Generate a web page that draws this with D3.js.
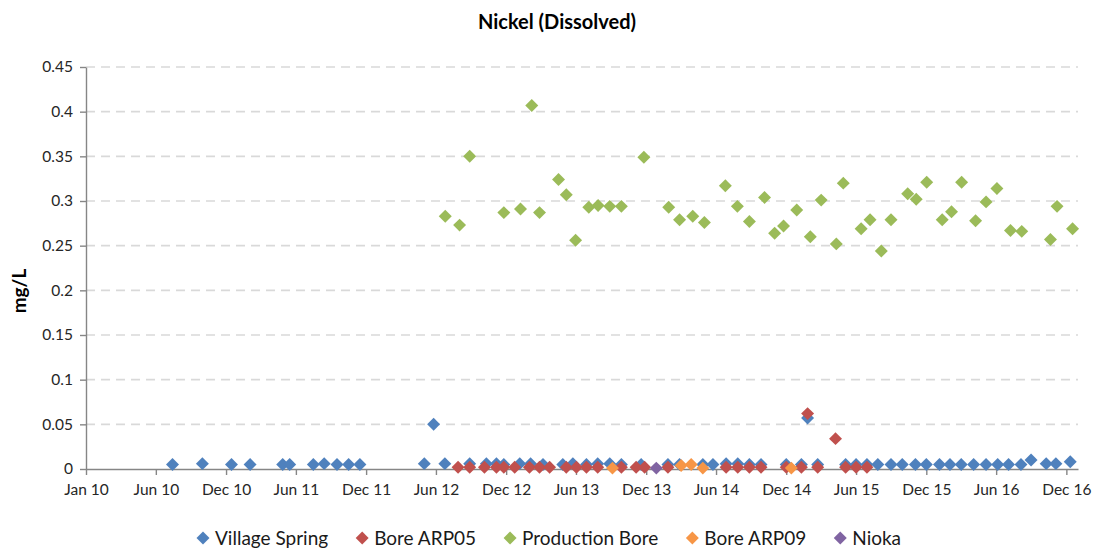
<!DOCTYPE html>
<html>
<head>
<meta charset="utf-8">
<script src="https://cdn.jsdelivr.net/npm/d3@7"></script>
<style>
  html, body { margin: 0; padding: 0; background: #ffffff; }
  svg { display: block; font-family: Lato, "Open Sans", sans-serif; }
</style>
</head>
<body>
<svg id="chart" width="1103" height="552"></svg>
<script>
// ---- data -------------------------------------------------------------
const seriesNames = ["Village Spring", "Bore ARP05", "Production Bore", "Bore ARP09", "Nioka"];
const seriesColors = ["#4f81bd", "#c0504d", "#9bbb59", "#f79646", "#8064a2"];

const villageSpring = [
  ["2010-08-12", 0.005], ["2010-10-28", 0.006], ["2011-01-11", 0.005], ["2011-02-28", 0.005],
  ["2011-05-23", 0.005], ["2011-06-10", 0.005], ["2011-08-10", 0.005], ["2011-09-07", 0.006],
  ["2011-10-10", 0.005], ["2011-11-09", 0.005], ["2011-12-08", 0.005], ["2012-05-22", 0.006],
  ["2012-06-15", 0.05], ["2012-07-14", 0.006], ["2012-09-16", 0.006], ["2012-10-29", 0.006],
  ["2012-11-24", 0.006], ["2012-12-13", 0.005], ["2013-01-23", 0.006], ["2013-02-20", 0.006],
  ["2013-03-24", 0.005], ["2013-05-14", 0.005], ["2013-06-09", 0.006], ["2013-07-14", 0.005],
  ["2013-08-12", 0.006], ["2013-09-12", 0.006], ["2013-10-12", 0.005], ["2013-12-02", 0.005],
  ["2014-02-09", 0.005], ["2014-03-11", 0.005], ["2014-05-10", 0.005], ["2014-06-05", 0.005],
  ["2014-07-09", 0.006], ["2014-08-08", 0.006], ["2014-09-07", 0.005], ["2014-10-07", 0.005],
  ["2014-12-11", 0.005], ["2015-01-19", 0.005], ["2015-02-04", 0.057], ["2015-03-02", 0.005],
  ["2015-05-13", 0.005], ["2015-06-09", 0.005], ["2015-07-07", 0.005], ["2015-08-04", 0.005],
  ["2015-09-07", 0.005], ["2015-10-06", 0.005], ["2015-11-09", 0.005], ["2015-12-07", 0.005],
  ["2016-01-10", 0.005], ["2016-02-06", 0.005], ["2016-03-06", 0.005], ["2016-04-07", 0.005],
  ["2016-05-09", 0.005], ["2016-06-08", 0.005], ["2016-07-06", 0.005], ["2016-08-07", 0.005],
  ["2016-09-02", 0.010], ["2016-10-11", 0.006], ["2016-11-05", 0.006], ["2016-12-12", 0.008]
];

const boreARP05 = [
  ["2012-08-17", 0.002], ["2012-09-16", 0.002], ["2012-10-24", 0.002], ["2012-11-24", 0.002],
  ["2012-12-13", 0.002], ["2013-01-10", 0.002], ["2013-02-17", 0.002], ["2013-03-15", 0.002],
  ["2013-04-10", 0.002], ["2013-05-23", 0.002], ["2013-06-18", 0.002], ["2013-07-14", 0.002],
  ["2013-08-12", 0.002], ["2013-10-12", 0.002], ["2013-11-19", 0.002], ["2013-12-11", 0.002],
  ["2014-02-09", 0.002], ["2014-07-09", 0.002], ["2014-08-08", 0.002], ["2014-09-07", 0.002],
  ["2014-10-07", 0.002], ["2014-12-11", 0.002], ["2015-01-19", 0.002], ["2015-02-04", 0.062],
  ["2015-03-02", 0.002], ["2015-04-17", 0.034], ["2015-05-13", 0.002], ["2015-06-09", 0.002],
  ["2015-07-07", 0.002]
];

const productionBore = [
  ["2012-07-15", 0.283], ["2012-08-21", 0.273], ["2012-09-16", 0.350], ["2012-12-13", 0.287],
  ["2013-01-25", 0.291], ["2013-02-23", 0.407], ["2013-03-15", 0.287], ["2013-05-03", 0.324],
  ["2013-05-23", 0.307], ["2013-06-16", 0.256], ["2013-07-20", 0.293], ["2013-08-13", 0.295],
  ["2013-09-12", 0.294], ["2013-10-12", 0.294], ["2013-12-09", 0.349], ["2014-02-11", 0.293],
  ["2014-03-11", 0.279], ["2014-04-14", 0.283], ["2014-05-14", 0.276], ["2014-07-07", 0.317],
  ["2014-08-07", 0.294], ["2014-09-07", 0.277], ["2014-10-16", 0.304], ["2014-11-11", 0.264],
  ["2014-12-04", 0.272], ["2015-01-07", 0.290], ["2015-02-11", 0.260], ["2015-03-11", 0.301],
  ["2015-04-19", 0.252], ["2015-05-07", 0.320], ["2015-06-22", 0.269], ["2015-07-15", 0.279],
  ["2015-08-13", 0.244], ["2015-09-07", 0.279], ["2015-10-20", 0.308], ["2015-11-11", 0.302],
  ["2015-12-08", 0.321], ["2016-01-17", 0.279], ["2016-02-10", 0.288], ["2016-03-07", 0.321],
  ["2016-04-12", 0.278], ["2016-05-09", 0.299], ["2016-06-06", 0.314], ["2016-07-11", 0.267],
  ["2016-08-09", 0.266], ["2016-10-22", 0.257], ["2016-11-08", 0.294], ["2016-12-18", 0.269]
];

const boreARP09 = [
  ["2013-09-19", 0.001], ["2014-03-15", 0.004], ["2014-04-10", 0.005], ["2014-05-10", 0.001],
  ["2014-12-24", 0.001]
];

const nioka = [
  ["2014-01-10", 0.001]
];

// axis ticks
const xTickDates = [
  "2010-01-01", "2010-06-30", "2010-12-28", "2011-06-26", "2011-12-24", "2012-06-21",
  "2012-12-19", "2013-06-17", "2013-12-15", "2014-06-13", "2014-12-11", "2015-06-09",
  "2015-12-07", "2016-06-04", "2016-12-02"
];
const xDomain = ["2010-01-01", "2017-01-01"];
const yTicks = [0, 0.05, 0.1, 0.15, 0.2, 0.25, 0.3, 0.35, 0.4, 0.45];

// ---- layout -----------------------------------------------------------
const plot = { left: 86, right: 1078, top: 67, bottom: 469 };
const tickColor = "#262626";
const axisColor = "#868686";

const parse = d3.utcParse("%Y-%m-%d");
const svg = d3.select("#chart");

const x = d3.scaleUtc()
  .domain(xDomain.map(parse))
  .range([plot.left, plot.right]);

const y = d3.scaleLinear()
  .domain([0, 0.45])
  .range([plot.bottom, plot.top]);

// dashed horizontal gridlines
svg.append("g")
  .selectAll("line")
  .data(yTicks.filter(d => d > 0))
  .join("line")
  .attr("x1", plot.left)
  .attr("x2", plot.right)
  .attr("y1", d => y(d))
  .attr("y2", d => y(d))
  .attr("stroke", "#d9d9d9")
  .attr("stroke-width", 1.6)
  .attr("stroke-dasharray", "9,6");

// y axis
const yAxis = svg.append("g")
  .attr("transform", `translate(${plot.left},0)`)
  .call(d3.axisLeft(y)
    .tickValues(yTicks)
    .tickSize(6)
    .tickSizeOuter(0)
    .tickPadding(7)
    .tickFormat(d => d === 0 ? "0" : String(+d.toFixed(2))));

// x axis
const xAxis = svg.append("g")
  .attr("transform", `translate(0,${plot.bottom})`)
  .call(d3.axisBottom(x)
    .tickValues(xTickDates.map(parse))
    .tickSize(6)
    .tickSizeOuter(0)
    .tickPadding(9)
    .tickFormat(d3.utcFormat("%b %y")));

[yAxis, xAxis].forEach(g => {
  g.select(".domain").attr("stroke", axisColor).attr("stroke-width", 1.4);
  g.selectAll(".tick line").attr("stroke", axisColor).attr("stroke-width", 1.4);
  g.selectAll(".tick text")
    .attr("fill", tickColor)
    .style("font-size", "15.5px")
    .style("font-family", "Lato, 'Open Sans', sans-serif");
});

// ---- markers ----------------------------------------------------------
const diamond = d3.symbol().type(d3.symbolSquare).size(84)();

const allSeries = [villageSpring, boreARP05, productionBore, boreARP09, nioka];

allSeries.forEach((rows, i) => {
  svg.append("g")
    .selectAll("path")
    .data(rows)
    .join("path")
    .attr("d", diamond)
    .attr("fill", seriesColors[i])
    .attr("transform", d => `translate(${x(parse(d[0]))},${y(d[1])}) rotate(45)`);
});

// ---- titles -----------------------------------------------------------
svg.append("text")
  .attr("x", 557)
  .attr("y", 29)
  .attr("text-anchor", "middle")
  .style("font-size", "20px")
  .style("font-weight", "bold")
  .attr("fill", "#000")
  .text("Nickel (Dissolved)");

svg.append("text")
  .attr("transform", "translate(26,291) rotate(-90)")
  .attr("text-anchor", "middle")
  .style("font-size", "19px")
  .style("font-weight", "bold")
  .attr("fill", "#000")
  .text("mg/L");

// ---- legend -----------------------------------------------------------
const legend = svg.append("g").attr("transform", "translate(0,538)");
let lx = 203;
seriesNames.forEach((name, i) => {
  legend.append("path")
    .attr("d", diamond)
    .attr("fill", seriesColors[i])
    .attr("transform", `translate(${lx},0) rotate(45)`);
  const t = legend.append("text")
    .attr("x", lx + 12)
    .attr("y", 0)
    .attr("dy", "0.35em")
    .style("font-size", "19px")
    .attr("fill", "#1a1a1a")
    .text(name);
  lx += 12 + t.node().getComputedTextLength() + 34;
});
</script>
</body>
</html>
